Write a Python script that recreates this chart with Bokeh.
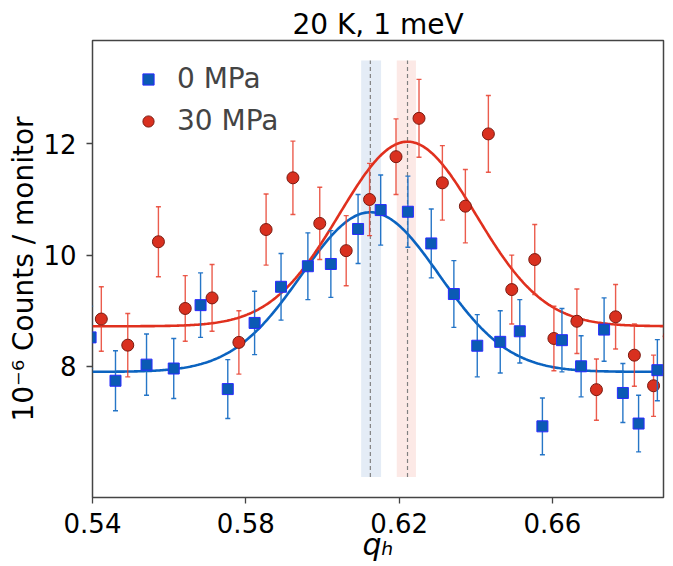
import numpy as np
from bokeh.plotting import figure
from bokeh.models import Range1d, FixedTicker, Legend, LegendItem, BoxAnnotation
from bokeh.embed import file_html
from bokeh.resources import INLINE

# ---- data ----
q0 = [0.5395, 0.5460, 0.5541, 0.5612, 0.5682, 0.5753, 0.5823, 0.5892, 0.5962, 0.6022,
      0.6093, 0.6152, 0.6223, 0.6284, 0.6343, 0.6404, 0.6464, 0.6515, 0.6574, 0.6625,
      0.6675, 0.6735, 0.6784, 0.6825, 0.6874]
i0 = [8.52, 7.74, 8.03, 7.96, 9.10, 7.59, 8.78, 9.43, 9.80, 9.84,
      10.47, 10.81, 10.78, 10.21, 9.30, 8.37, 8.44, 8.63, 6.92, 8.47,
      8.00, 8.66, 7.52, 6.97, 7.93]
e0 = [0.56, 0.54, 0.55, 0.54, 0.58, 0.53, 0.57, 0.60, 0.60, 0.60,
      0.62, 0.63, 0.64, 0.62, 0.60, 0.56, 0.56, 0.57, 0.51, 0.57,
      0.55, 0.57, 0.53, 0.51, 0.55]

q30 = [0.5423, 0.5492, 0.5572, 0.5642, 0.5712, 0.5782, 0.5853, 0.5923, 0.5993, 0.6062,
       0.6123, 0.6192, 0.6252, 0.6313, 0.6373, 0.6433, 0.6494, 0.6554, 0.6604, 0.6664,
       0.6715, 0.6765, 0.6814, 0.6864, 0.6905]
i30 = [8.85, 8.38, 10.24, 9.04, 9.23, 8.43, 10.46, 11.39, 10.57, 10.08,
       11.00, 11.77, 12.46, 11.30, 10.88, 12.18, 9.38, 9.92, 8.50, 8.81,
       7.58, 8.89, 8.20, 7.65, 8.54]
e30 = [0.58, 0.57, 0.63, 0.59, 0.60, 0.57, 0.64, 0.66, 0.65, 0.63,
       0.65, 0.68, 0.70, 0.67, 0.66, 0.69, 0.62, 0.63, 0.58, 0.58,
       0.55, 0.58, 0.56, 0.55, 0.58]

# Gaussian fit parameters: baseline, amplitude, centre, sigma
fit0 = dict(base=7.90, amp=2.87, cen=0.6125, sig=0.0180)
fit30 = dict(base=8.72, amp=3.32, cen=0.6222, sig=0.0178)

# centre uncertainty bands
band0 = (0.6101, 0.6153)
band30 = (0.6194, 0.6244)
band_y = (6.01, 13.50)

x_ticks = [0.54, 0.58, 0.62, 0.66]
y_ticks = [8, 10, 12]

title_text = "20 K, 1 meV"
x_label = "qₕ"
y_label = "10⁻⁶ Counts / monitor"
labels = ["0 MPa", "30 MPa"]

BLUE_FILL = "#0b5ab4"
BLUE_EDGE = "#2b2bff"
BLUE_LINE = "#0b63c0"
BLUE_ERR = "#1a6fc4"
RED_FILL = "#d9301f"
RED_EDGE = "#7a1a10"
RED_LINE = "#e0301e"
RED_ERR = "#e8402e"
FONT = "DejaVu Sans"

p = figure(width=673, height=566, output_backend="svg", toolbar_location=None,
           x_range=Range1d(0.54, 0.689), y_range=Range1d(5.64, 13.86),
           min_border_left=92, min_border_right=10, min_border_top=40, min_border_bottom=69,
           title=title_text)
p.title.align = "center"
p.title.text_font = FONT
p.title.text_font_size = "28px"
p.title.text_font_style = "normal"
p.title.text_color = "#000000"
p.title.standoff = 0
p.title.offset = 0

p.xgrid.visible = False
p.ygrid.visible = False
p.outline_line_color = "#444444"
p.outline_line_width = 1.5
p.background_fill_color = "white"
p.border_fill_color = "white"

for ax in (p.xaxis[0], p.yaxis[0]):
    ax.axis_line_color = None
    ax.major_tick_line_color = "#444444"
    ax.major_tick_line_width = 1.3
    ax.major_tick_out = 6
    ax.major_tick_in = 0
    ax.minor_tick_line_color = None
    ax.major_label_text_font = FONT
    ax.major_label_text_font_size = "26px"
    ax.major_label_text_color = "#000000"
    ax.axis_label_text_font = FONT
    ax.axis_label_text_color = "#000000"

p.xaxis.ticker = FixedTicker(ticks=x_ticks)
p.yaxis.ticker = FixedTicker(ticks=y_ticks)
p.xaxis.axis_label = x_label
p.xaxis.axis_label_text_font_style = "italic"
p.xaxis.axis_label_text_font_size = "30px"
p.xaxis.major_label_standoff = 9
p.xaxis.axis_label_standoff = -9
p.yaxis.axis_label = y_label
p.yaxis.axis_label_text_font_style = "normal"
p.yaxis.axis_label_text_font_size = "28px"
p.yaxis.major_label_standoff = 10
p.yaxis.axis_label_standoff = 0

# bands and centre lines
p.add_layout(BoxAnnotation(left=band0[0], right=band0[1], bottom=band_y[0], top=band_y[1],
                           fill_color="#c9d9ee", fill_alpha=0.5, line_color=None, level="underlay"))
p.add_layout(BoxAnnotation(left=band30[0], right=band30[1], bottom=band_y[0], top=band_y[1],
                           fill_color="#f9d3cd", fill_alpha=0.5, line_color=None, level="underlay"))
p.segment(x0=[fit0["cen"], fit30["cen"]], y0=[band_y[0]] * 2,
          x1=[fit0["cen"], fit30["cen"]], y1=[band_y[1]] * 2,
          line_color="#808080", line_width=1.2, line_dash="4 3")

# fit curves
xx = np.linspace(0.54, 0.689, 400)
def gauss(x, f):
    return f["base"] + f["amp"] * np.exp(-(x - f["cen"]) ** 2 / (2 * f["sig"] ** 2))
p.line(xx, gauss(xx, fit0), line_color=BLUE_LINE, line_width=2.6)
p.line(xx, gauss(xx, fit30), line_color=RED_LINE, line_width=2.6)

def errbars(q, i, e, color, alpha):
    q = np.array(q); i = np.array(i); e = np.array(e)
    p.segment(x0=q, y0=i - e, x1=q, y1=i + e, line_color=color, line_width=1.4, line_alpha=alpha)
    p.scatter(np.concatenate([q, q]), np.concatenate([i - e, i + e]), marker="dash", size=5,
              line_color=color, line_width=1.4, line_alpha=alpha)

errbars(q30, i30, e30, RED_ERR, 0.85)
r30 = p.scatter(q30, i30, marker="circle", size=12, fill_color=RED_FILL, line_color=RED_EDGE, line_width=1)
errbars(q0, i0, e0, BLUE_ERR, 0.95)
r0 = p.scatter(q0, i0, marker="square", size=11, fill_color=BLUE_FILL, line_color=BLUE_EDGE, line_width=1)

legend = Legend(items=[LegendItem(label=labels[0], renderers=[r0]),
                       LegendItem(label=labels[1], renderers=[r30])],
                location=(42, 360), margin=0, padding=0, spacing=9,
                glyph_width=28, glyph_height=28, label_standoff=15,
                label_text_font=FONT, label_text_font_size="28px",
                border_line_alpha=0, background_fill_alpha=0)
p.add_layout(legend)

open("out.html", "w").write(file_html(p, INLINE))
